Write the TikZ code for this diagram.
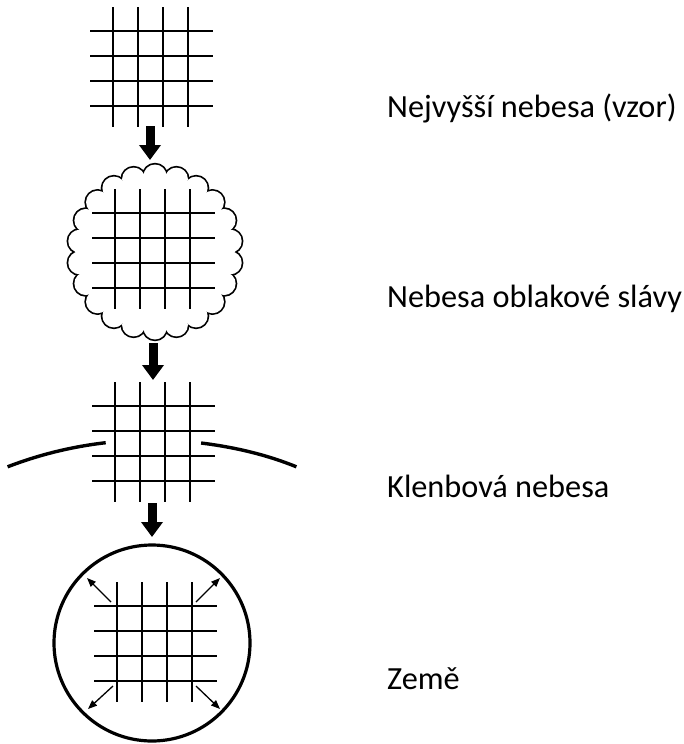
\documentclass[tikz,border=0pt]{standalone}
\usepackage{fontspec}
\setmainfont{Carlito}
\usetikzlibrary{arrows.meta,calc}
\begin{document}
\begin{tikzpicture}[x=1pt,y=-1pt,
  gridline/.style={line width=2pt},
  cloudline/.style={line width=3.4pt},
  ring/.style={line width=3.2pt},
  vault/.style={line width=3.4pt},
  bigarrow/.style={line width=9pt, -{Triangle[width=21pt,length=15pt]}},
  smallarrow/.style={line width=1.3pt, -{Triangle[width=7pt,length=9pt]}},
  lbl/.style={anchor=base west, inner sep=0pt, font=\fontsize{32.3}{38}\selectfont}]
\useasboundingbox (0,0) rectangle (684,744);
\newcommand\mygrid[2]{%
  \foreach \k in {0,1,2,3}{%
    \draw[gridline] (#1-23,#2+25*\k) -- (#1+100,#2+25*\k);
    \draw[gridline] (#1+25*\k,#2-24) -- (#1+25*\k,#2+96);
  }}
% cloud (union of scallop circles)
\coordinate (C) at (155,252);
\foreach \i in {0,...,21}{
  \draw[cloudline] ($(C)+(\i*360/22+90:76)$) circle[radius=11.5];
}
\foreach \i in {0,...,21}{
  \fill[white] ($(C)+(\i*360/22+90:76)$) circle[radius=11.5];
}
\fill[white] (C) circle[radius=77];
% grids
\mygrid{113}{31}
\mygrid{115}{213}
\mygrid{115}{406}
\mygrid{117}{606}
% vault arcs
\draw[vault] (7.6,466.8) .. controls (39.3,454.6) and (72.0,446.6) .. (105.7,442.7);
\draw[vault] (201.1,443) .. controls (233.8,447.1) and (265.6,454.3) .. (296.4,466.8);
% earth circle
\coordinate (E) at (152,643);
\draw[ring] (E) circle[radius=98];
% big arrows
\coordinate (a1s) at (150,126); \coordinate (a1e) at (150,160);
\coordinate (a2s) at (153,343); \coordinate (a2e) at (153,380);
\coordinate (a3s) at (152,503); \coordinate (a3e) at (152,537);
\draw[bigarrow] (a1s) -- (a1e);
\draw[bigarrow] (a2s) -- (a2e);
\draw[bigarrow] (a3s) -- (a3e);
% small arrows
\coordinate (d1s) at (111,602); \coordinate (d1e) at (87,578);
\coordinate (d2s) at (196,602); \coordinate (d2e) at (220,578);
\coordinate (d3s) at (113,686); \coordinate (d3e) at (88,709);
\coordinate (d4s) at (196,686); \coordinate (d4e) at (220,709);
\draw[smallarrow] (d1s) -- (d1e);
\draw[smallarrow] (d2s) -- (d2e);
\draw[smallarrow] (d3s) -- (d3e);
\draw[smallarrow] (d4s) -- (d4e);
% labels
\node[lbl] (t1) at (387,117) {Nejvyšší nebesa (vzor)};
\node[lbl] (t2) at (387,307) {Nebesa oblakové slávy};
\node[lbl] (t3) at (387,497) {Klenbová nebesa};
\node[lbl] (t4) at (387,689) {Země};
\end{tikzpicture}
\end{document}
